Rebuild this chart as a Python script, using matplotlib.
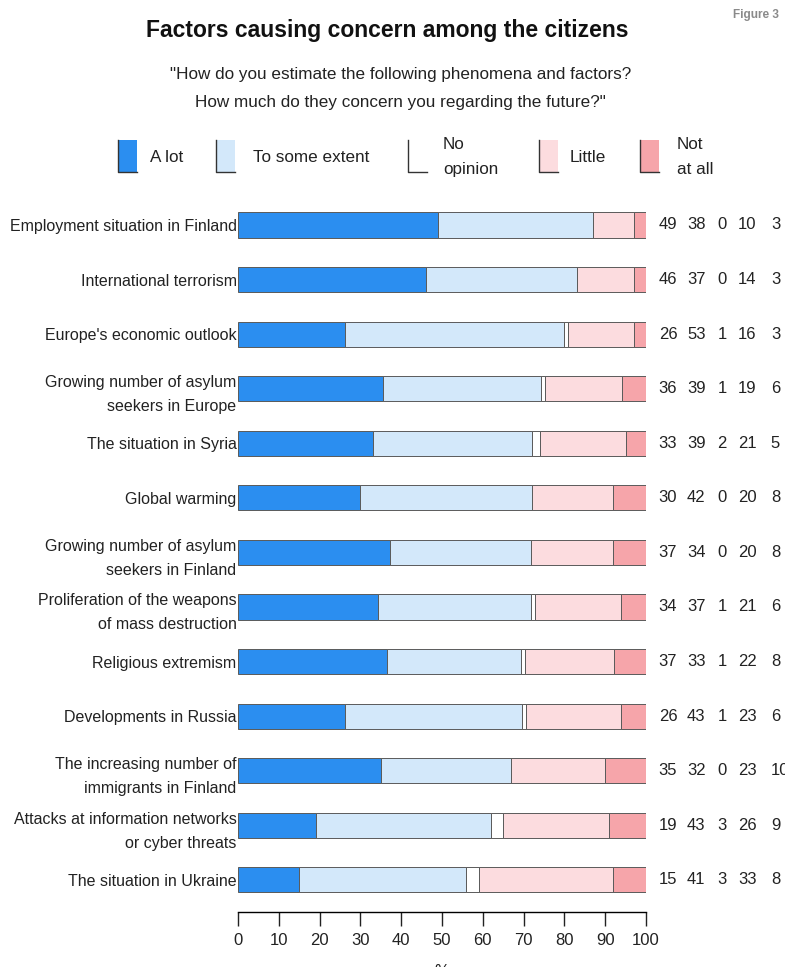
import matplotlib
matplotlib.use("Agg")
import matplotlib.pyplot as plt
from matplotlib.patches import Rectangle
from matplotlib.lines import Line2D
import numpy as np

plt.rcParams['font.family'] = ['Liberation Sans Narrow', 'Liberation Sans', 'DejaVu Sans']

# data
categories = [
    "Employment situation in Finland",
    "International terrorism",
    "Europe's economic outlook",
    "Growing number of asylum\nseekers in Europe",
    "The situation in Syria",
    "Global warming",
    "Growing number of asylum\nseekers in Finland",
    "Proliferation of the weapons\nof mass destruction",
    "Religious extremism",
    "Developments in Russia",
    "The increasing number of\nimmigrants in Finland",
    "Attacks at information networks\nor cyber threats",
    "The situation in Ukraine",
]
a_lot = [49, 46, 26, 36, 33, 30, 37, 34, 37, 26, 35, 19, 15]
some_extent = [38, 37, 53, 39, 39, 42, 34, 37, 33, 43, 32, 43, 41]
no_opinion = [0, 0, 1, 1, 2, 0, 0, 1, 1, 1, 0, 3, 3]
little = [10, 14, 16, 19, 21, 20, 20, 21, 22, 23, 23, 26, 33]
not_at_all = [3, 3, 3, 6, 5, 8, 8, 6, 8, 6, 10, 9, 8]

series_names = ["A lot", "To some extent", "No\nopinion", "Little", "Not\nat all"]
colors = ["#2b8ef0", "#d3e8fa", "#ffffff", "#fcdcdf", "#f6a5aa"]

values = np.array([a_lot, some_extent, no_opinion, little, not_at_all], dtype=float)
shares = values / values.sum(axis=0) * 100  # bars all reach 100

fig = plt.figure(figsize=(7.85, 9.67), dpi=100)
ax = fig.add_axes([238 / 785, 1 - 912 / 967, 408 / 785, (912 - 197.7) / 967])

y = np.arange(len(categories))
left = np.zeros(len(categories))
for k in range(5):
    ax.barh(y, shares[k], left=left, height=0.46, color=colors[k],
            edgecolor="#5a5a5a", linewidth=0.7)
    left += shares[k]

ax.set_xlim(0, 100)
ax.set_ylim(12.59, -0.5)
ax.set_yticks(y)
ax.set_yticklabels(categories, fontsize=11.5, color="#222222",
                   multialignment="right", linespacing=1.75)
ax.tick_params(axis="y", length=0, pad=1)
ax.set_xticks(range(0, 101, 10))
ax.tick_params(axis="x", length=10, width=1, labelsize=12, colors="#222222", pad=5)
for s in ["left", "right", "top"]:
    ax.spines[s].set_visible(False)
ax.spines["bottom"].set_linewidth(1)

# numbers on the right
col_x = [105.4, 112.3, 118.6, 124.8]
for i in range(len(categories)):
    row = [a_lot[i], some_extent[i], no_opinion[i], little[i], not_at_all[i]]
    for j in range(4):
        ax.text(col_x[j], i, str(row[j]), ha="center", va="center", fontsize=12,
                color="#222222", clip_on=False)
    ax.text(130.6, i, str(row[4]), ha="left", va="center", fontsize=12,
            color="#222222", clip_on=False)

# titles
fig.text(387 / 785, 1 - 31 / 967, "Factors causing concern among the citizens",
         ha="center", va="center", fontsize=16.5, fontweight="bold", color="#111111")
fig.text(401 / 785, 1 - 75 / 967,
         "\"How do you estimate the following phenomena and factors?",
         ha="center", va="center", fontsize=12.3, color="#222222")
fig.text(400 / 785, 1 - 103 / 967,
         "How much do they concern you regarding the future?\"",
         ha="center", va="center", fontsize=12.3, color="#222222")
fig.text(756 / 785, 1 - 15 / 967, "Figure 3", ha="center", va="center",
         fontsize=8.5, fontweight="bold", color="#8a8a8a")
fig.text(442 / 785, 1 - 972 / 967, "%", ha="center", va="center", fontsize=12,
         color="#222222")

# legend
box_x = [118, 216, 408, 539, 640]
text_x = [150, 253, 443, 570, 677]
for k in range(5):
    x0 = box_x[k] / 785
    w = 19 / 785
    y0 = 1 - 172 / 967
    h = 32 / 967
    fig.patches.append(Rectangle((x0, y0), w, h, transform=fig.transFigure,
                                 facecolor=colors[k], edgecolor="none"))
    fig.lines.append(Line2D([x0, x0, x0 + w], [y0 + h, y0, y0],
                            transform=fig.transFigure, color="#333333", linewidth=1))
    fig.text(text_x[k] / 785, 1 - 157 / 967, series_names[k], ha="left", va="center",
             fontsize=12.3, color="#222222", linespacing=1.8)

fig.savefig("out.png", dpi=100)
